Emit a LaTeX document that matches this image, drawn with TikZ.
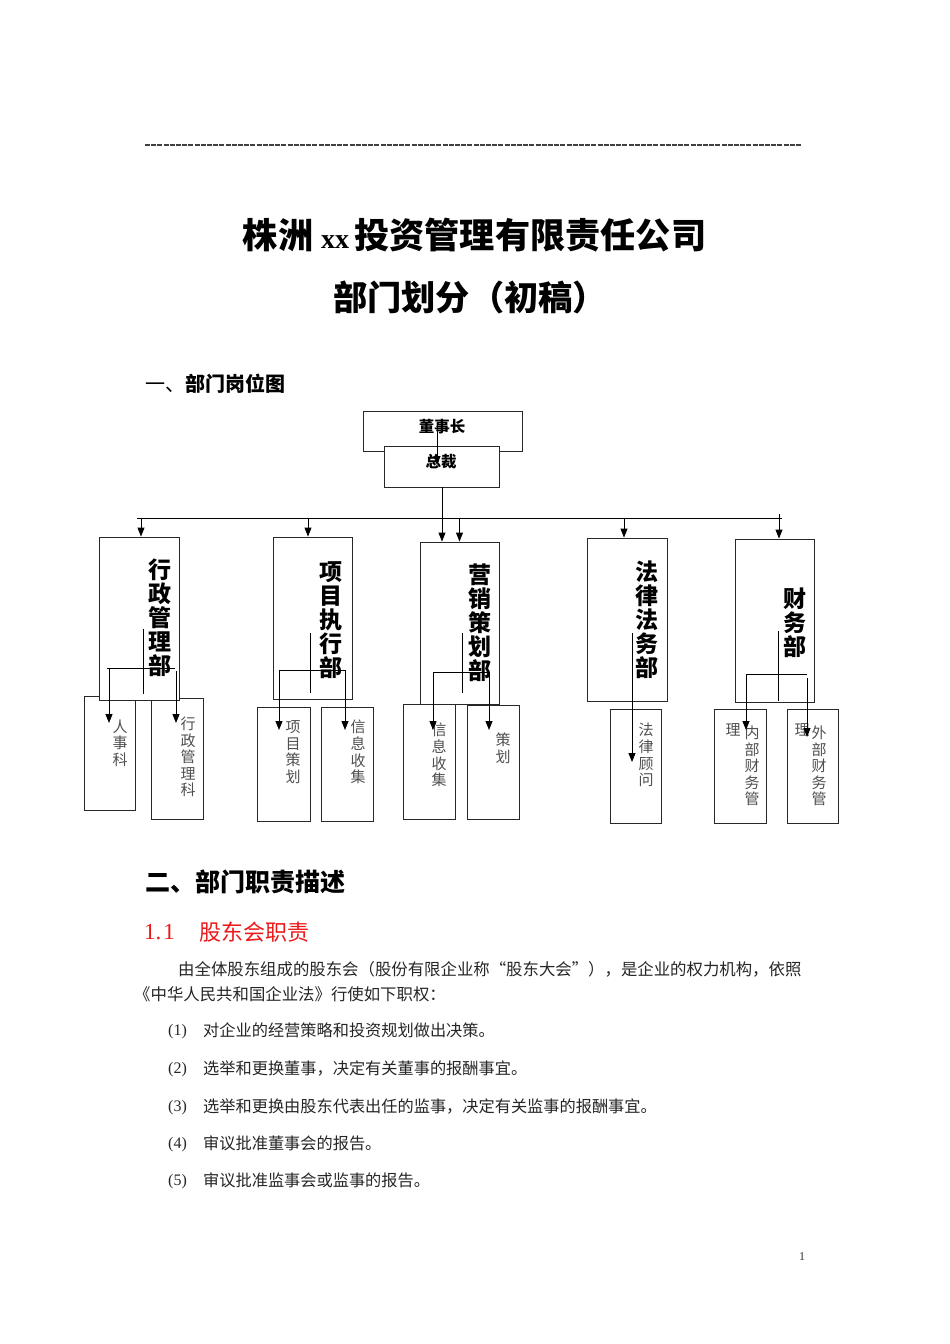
\documentclass[tikz,border=0pt]{standalone}
\usepackage{fontspec}
\setmainfont{Liberation Serif}
\newfontfamily\cjk{Noto Sans CJK SC}
\newfontfamily\lat{Liberation Serif}
\usetikzlibrary{arrows.meta}
\definecolor{redhead}{RGB}{235,25,25}
\definecolor{linec}{RGB}{40,40,40}
\definecolor{subtxt}{RGB}{80,80,80}
\begin{document}
\begin{tikzpicture}[x=1pt,y=-1pt,
  box/.style={draw=linec, line width=0.9pt, fill=white, inner sep=0pt},
  conn/.style={draw=black, line width=0.9pt},
  arr/.style={conn, -{Triangle[width=7pt,length=9pt]}},
  depttxt/.style={font=\cjk\bfseries\fontsize{23}{24}\selectfont, align=center, inner sep=0pt},
  subtext/.style={font=\cjk\fontsize{15}{16.6}\selectfont, align=center, inner sep=0pt, text=subtxt},
  toptxt/.style={font=\cjk\bfseries\fontsize{15.5}{16}\selectfont, inner sep=0pt},
  body/.style={font=\cjk\fontsize{16.4}{18}\selectfont, inner sep=0pt, anchor=west, text=black!85},
  item/.style={font=\cjk\fontsize{16.2}{18}\selectfont, inner sep=0pt, anchor=west, text=black!85},
  num/.style={font=\lat\fontsize{16}{18}\selectfont, inner sep=0pt, anchor=west, text=black!85}
]
\useasboundingbox[fill=white] (0,0) rectangle (950,1344);

% top rule of hyphens
\coordinate (ruleL) at (145,145);
\coordinate (ruleR) at (801,145);
\draw[draw=black!75, line width=1.3pt, dash pattern=on 5pt off 1.2pt] (ruleL) -- (ruleR);

% titles
\node[font=\cjk\bfseries\fontsize{35.2}{37}\selectfont, inner sep=0pt] (title1) at (474.5,235)
  {株洲\hspace{8pt}{\lat\fontsize{28}{30}\selectfont xx}\hspace{5pt}投资管理有限责任公司};
\node[font=\cjk\bfseries\fontsize{34.2}{36}\selectfont, inner sep=0pt] (title2) at (470,297)
  {部门划分（初稿）};

\node[font=\cjk\fontsize{20}{22}\selectfont, inner sep=0pt, anchor=west] (h1) at (145,384)
  {一、\textbf{部门岗位图}};

% sub boxes (drawn first)
\node[box, minimum width=51pt, minimum height=114pt] (s11) at (109.5,753) {};
\node[box, minimum width=52pt, minimum height=121pt] (s12) at (177,758.5) {};
\node[box, minimum width=53pt, minimum height=114pt] (s21) at (283.5,764) {};
\node[box, minimum width=52pt, minimum height=114pt] (s22) at (347,764) {};
\node[box, minimum width=52pt, minimum height=115pt] (s31) at (429,761.5) {};
\node[box, minimum width=52pt, minimum height=114pt] (s32) at (493,762) {};
\node[box, minimum width=51pt, minimum height=114pt] (s41) at (635.5,766) {};
\node[box, minimum width=52pt, minimum height=114pt] (s51) at (740,766) {};
\node[box, minimum width=51pt, minimum height=114pt] (s52) at (812.5,766) {};

% department boxes
\node[box, minimum width=80pt, minimum height=163pt] (d1) at (139,618.5) {};
\node[box, minimum width=79pt, minimum height=162pt] (d2) at (312.5,618) {};
\node[box, minimum width=79pt, minimum height=162pt] (d3) at (459.5,623) {};
\node[box, minimum width=80pt, minimum height=163pt] (d4) at (627,619.5) {};
\node[box, minimum width=79pt, minimum height=163pt] (d5) at (774.5,620.5) {};

% chairman / president
\node[box, minimum width=159pt, minimum height=40pt] (chair) at (442.5,431) {};
\node[box, minimum width=115pt, minimum height=41pt] (pres) at (441.5,466.5) {};
\node[toptxt] (chairt) at (442,427) {董事长};
\node[toptxt] (prest) at (441,462) {总裁};

% department texts
\node[depttxt] (t1) at (160,618) {行\\政\\管\\理\\部};
\node[depttxt] (t2) at (331,620) {项\\目\\执\\行\\部};
\node[depttxt] (t3) at (480,623) {营\\销\\策\\划\\部};
\node[depttxt] (t4) at (647,620) {法\\律\\法\\务\\部};
\node[depttxt] (t5) at (795,623) {财\\务\\部};

% sub texts
\node[subtext] (u11) at (120,743) {人\\事\\科};
\node[subtext] (u12) at (188,757) {行\\政\\管\\理\\科};
\node[subtext] (u21) at (293,752) {项\\目\\策\\划};
\node[subtext] (u22) at (358,752) {信\\息\\收\\集};
\node[subtext] (u31) at (439,755) {信\\息\\收\\集};
\node[subtext] (u32) at (503,748) {策\\划};
\node[subtext] (u41) at (646,755) {法\\律\\顾\\问};
\node[subtext] (u51) at (752,766) {内\\部\\财\\务\\管};
\node[subtext] (u51b) at (733,730) {理};
\node[subtext] (u52) at (819,766) {外\\部\\财\\务\\管};
\node[subtext] (u52b) at (802,730) {理};

% connectors: chairman -> president
\coordinate (c0) at (437,425);
\coordinate (c0e) at (437,465);
\draw[arr] (c0) -- (c0e);

% bus
\coordinate (busL) at (137,518);
\coordinate (busR) at (782,518);
\draw[conn] (busL) -- (busR);
\draw[arr] ([xshift=0.5pt]pres.south) -- ([xshift=-17.5pt]d3.north);
\draw[arr] ([yshift=24pt]d3.north) -- (d3.north);
\draw[arr] ([shift={(2,-19)}]d1.north) -- ([xshift=2pt]d1.north);
\draw[arr] ([shift={(-4.5,-19)}]d2.north) -- ([xshift=-4.5pt]d2.north);
\draw[arr] ([shift={(-3,-20)}]d4.north) -- ([xshift=-3pt]d4.north);
\draw[arr] ([shift={(4.5,-25)}]d5.north) -- ([xshift=4.5pt]d5.north);

% inner connectors d1
\coordinate (v1a) at (143,629); \coordinate (v1b) at (143,694);
\coordinate (h1a) at (107,668); \coordinate (h1b) at (175,668);
\draw[conn] (v1a) -- (v1b);
\draw[conn] (h1a) -- (h1b);
\draw[arr] (109,668) -- (109,723);
\draw[arr] (176,671) -- (176,723);

% inner connectors d2
\coordinate (v2a) at (310,633); \coordinate (v2b) at (310,693);
\coordinate (h2a) at (279,670); \coordinate (h2b) at (345,670);
\draw[conn] (v2a) -- (v2b);
\draw[conn] (h2a) -- (h2b);
\draw[arr] (h2a) -- (279,730);
\draw[arr] (h2b) -- (345,730);

% inner connectors d3
\coordinate (v3a) at (462,633); \coordinate (v3b) at (462,693);
\coordinate (h3a) at (433,672); \coordinate (h3b) at (489,672);
\draw[conn] (v3a) -- (v3b);
\draw[conn] (h3a) -- (h3b);
\draw[arr] (h3a) -- (433,730);
\draw[arr] (h3b) -- (489,730);

% inner connector d4
\coordinate (v4a) at (632,633); \coordinate (v4b) at (632,762);
\draw[arr] (v4a) -- (v4b);

% inner connectors d5
\coordinate (v5a) at (778,631); \coordinate (v5b) at (778,701);
\coordinate (h5a) at (746,674); \coordinate (h5b) at (807,674);
\draw[conn] (v5a) -- (v5b);
\draw[conn] (h5a) -- (h5b);
\draw[arr] (h5a) -- (746,730);
\draw[arr] (807,678) -- (807,737);

% section two
\node[font=\cjk\bfseries\fontsize{25}{27}\selectfont, inner sep=0pt, anchor=west] (h2) at (145,882)
  {二、部门职责描述};
\node[font=\lat\fontsize{23}{25}\selectfont, inner sep=0pt, anchor=west, text=redhead] (h3n) at (144,932) {1.\hspace{2pt}1};
\node[font=\cjk\fontsize{22}{24}\selectfont, inner sep=0pt, anchor=west, text=redhead] (h3) at (199,932) {股东会职责};

\node[body] (p1) at (178,969) {由全体股东组成的股东会（股份有限企业称“股东大会”），是企业的权力机构，依照};
\node[body] (p2) at (134,994) {《中华人民共和国企业法》行使如下职权：};

\node[num] (n1) at (168,1031.5) {(1)};
\node[item] (i1) at (203,1030) {对企业的经营策略和投资规划做出决策。};
\node[num] (n2) at (168,1069.5) {(2)};
\node[item] (i2) at (203,1068) {选举和更换董事，决定有关董事的报酬事宜。};
\node[num] (n3) at (168,1107.5) {(3)};
\node[item] (i3) at (203,1106) {选举和更换由股东代表出任的监事，决定有关监事的报酬事宜。};
\node[num] (n4) at (168,1144.5) {(4)};
\node[item] (i4) at (203,1143) {审议批准董事会的报告。};
\node[num] (n5) at (168,1181.5) {(5)};
\node[item] (i5) at (203,1180) {审议批准监事会或监事的报告。};

\node[font=\lat\fontsize{12}{14}\selectfont, inner sep=0pt, text=black!80] (pg) at (802,1257) {1};
\end{tikzpicture}
\end{document}
